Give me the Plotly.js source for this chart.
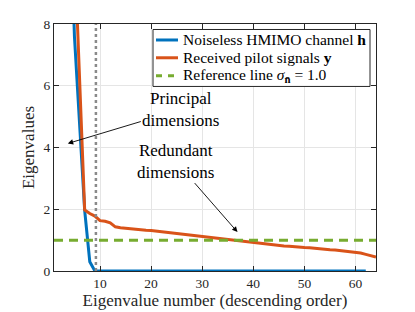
<!DOCTYPE html>
<html><head><meta charset="utf-8">
<script src="https://cdn.plot.ly/plotly-3.0.1.min.js"></script>
<style>html,body{margin:0;padding:0;background:#fff}#chart{width:415px;height:312px}</style>
</head><body><div id="chart"></div>
<script>
// eigenvalue index 1..64
const idx = Array.from({length:64}, (_, i) => i + 1);
const noiseless = [60, 40, 25, 12.7, 7.6, 4.7, 1.96, 0.3,
  0,0,0,0,0,0,0,0,0,0,0,0,0,0,0,0,0,0,0,0,0,0,0,0,0,0,0,0,0,0,0,0,0,0,0,0,0,0,0,0,0,0,0,0,0,0,0,0,0,0,0,0,0,0];
const received = [62, 42, 27, 15, 10.5, 6.1, 1.98, 1.86, 1.78, 1.63, 1.61, 1.56, 1.43, 1.40,
  1.38, 1.37, 1.35, 1.34, 1.32, 1.31, 1.29, 1.28, 1.26, 1.24, 1.22, 1.20, 1.18, 1.16, 1.14, 1.12,
  1.10, 1.08, 1.06, 1.04, 1.02, 0.99, 0.97, 0.95, 0.93, 0.91, 0.90, 0.88, 0.86, 0.84, 0.82, 0.81,
  0.80, 0.78, 0.77, 0.76, 0.75, 0.73, 0.72, 0.70, 0.69, 0.68, 0.66, 0.65, 0.63, 0.61, 0.58, 0.54, 0.50, 0.45];
const refLevel = [1.0, 1.0];
const refX = [1, 64];
const cutX = [9.2, 9.2];
const cutY = [0, 8];
const xTicks = [10, 20, 30, 40, 50, 60];
const yTicks = [0, 2, 4, 6, 8];
const seriesNames = ['Noiseless HMIMO channel <b>h</b>', 'Received pilot signals <b>y</b>',
  'Reference line <i>σ</i><sub><b>n̄</b></sub> = 1.0'];
const seriesColors = ['#0072BD', '#D95319', '#77AC30'];
const seriesDash = ['solid', 'solid', '9px,6px'];

const FONT = "'Liberation Serif', 'Times New Roman', serif";
const W = 415, H = 312, ML = 54, MR = 39, MT = 23.5, MB = 41.3;
const PW = W - ML - MR, PH = H - MT - MB;
const px = v => (v - ML) / PW;          // pixel x -> paper x
const py = v => 1 - (v - MT) / PH;      // pixel y -> paper y

const traces = [
  {x: idx, y: noiseless, mode: 'lines', name: seriesNames[0], line: {color: seriesColors[0], width: 3}},
  {x: idx, y: received, mode: 'lines', name: seriesNames[1], line: {color: seriesColors[1], width: 3}},
  {x: refX, y: refLevel, mode: 'lines', name: seriesNames[2], line: {color: seriesColors[2], width: 3, dash: seriesDash[2]}},
  {x: cutX, y: cutY, mode: 'lines', showlegend: false, line: {color: '#8a8a8a', width: 2.5, dash: 'dot'}}
];

// custom MATLAB-style legend box
const legRows = [39.5, 57.3, 75.2];
const shapes = [{type: 'rect', xref: 'paper', yref: 'paper', x0: px(153), x1: px(370), y0: py(86), y1: py(29),
  fillcolor: '#fff', line: {color: '#262626', width: 1}, layer: 'above'}];
const legAnn = [];
seriesNames.forEach((nm, k) => {
  shapes.push({type: 'line', xref: 'paper', yref: 'paper', x0: px(156), x1: px(178), y0: py(legRows[k]), y1: py(legRows[k]),
    line: {color: seriesColors[k], width: 3, dash: k === 2 ? '6px,6px' : 'solid'}, layer: 'above'});
  legAnn.push({xref: 'paper', yref: 'paper', x: px(181), y: py(legRows[k]), xanchor: 'left', yanchor: 'middle',
    text: nm, showarrow: false, font: {family: FONT, size: 15.5, color: '#000'}});
});

const axisCommon = {
  showline: true, mirror: 'allticks', linecolor: '#262626', linewidth: 1,
  ticks: 'inside', ticklen: 5, tickcolor: '#262626',
  showgrid: true, gridcolor: '#e5e5e5', gridwidth: 1, zeroline: false,
  tickfont: {family: FONT, size: 13.5, color: '#262626'}
};
const layout = {
  width: W, height: H,
  margin: {l: ML, r: MR, t: MT, b: MB},
  paper_bgcolor: '#fff', plot_bgcolor: '#fff',
  font: {family: FONT, color: '#262626'},
  showlegend: false,
  xaxis: Object.assign({}, axisCommon, {range: [1, 64], tickvals: xTicks,
    title: {text: 'Eigenvalue number (descending order)', font: {family: FONT, size: 17, color: '#262626'}, standoff: 2}}),
  yaxis: Object.assign({}, axisCommon, {range: [0, 8], tickvals: yTicks,
    title: {text: 'Eigenvalues', font: {family: FONT, size: 17, color: '#262626'}, standoff: 4}}),
  shapes: shapes,
  annotations: [
    {x: 3.7, y: 4.13, xref: 'x', yref: 'y', text: 'Principal<br>dimensions', showarrow: true,
     ax: 113, ay: -34, arrowhead: 2, arrowsize: 1.2, arrowwidth: 0.9, arrowcolor: '#000',
     font: {family: FONT, size: 17, color: '#000'}},
    {x: 36.9, y: 1.26, xref: 'x', yref: 'y', text: 'Redundant<br>dimensions', showarrow: true,
     ax: -62, ay: -71, arrowhead: 2, arrowsize: 1.2, arrowwidth: 0.9, arrowcolor: '#000',
     font: {family: FONT, size: 17, color: '#000'}}
  ].concat(legAnn)
};
Plotly.newPlot('chart', traces, layout, {displayModeBar: false, staticPlot: true});
</script></body></html>
